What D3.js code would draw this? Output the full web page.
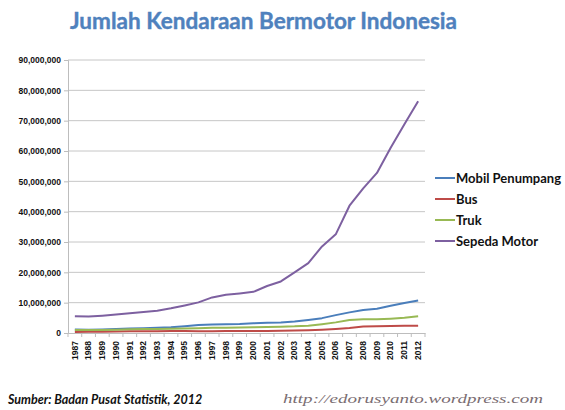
<!DOCTYPE html>
<html><head><meta charset="utf-8">
<script src="https://cdn.jsdelivr.net/npm/d3@7"></script>
<style>body{margin:0;background:#fff}svg{display:block}</style>
</head><body>
<svg id="c" width="565" height="410"></svg>
<script>
const years = [1987,1988,1989,1990,1991,1992,1993,1994,1995,1996,1997,1998,1999,2000,2001,2002,2003,2004,2005,2006,2007,2008,2009,2010,2011,2012];
const mobilPenumpang = [1170000,1073000,1182000,1313000,1495000,1591000,1700000,1890000,2250000,2600000,2800000,2900000,3000000,3200000,3400000,3500000,3800000,4300000,4900000,5900000,6800000,7600000,8000000,9000000,9900000,10700000];
const bus = [303000,386000,435000,469000,540000,606000,568000,652000,689000,595000,611000,627000,645000,666000,688000,714000,798000,933000,1110000,1350000,1650000,2150000,2200000,2300000,2350000,2400000];
const truk = [1000000,950000,1020000,1100000,1200000,1300000,1350000,1400000,1500000,1600000,1700000,1750000,1800000,1900000,2000000,2100000,2200000,2400000,2900000,3500000,4300000,4500000,4500000,4700000,5000000,5500000];
const sepedaMotor = [5554000,5420000,5722000,6083000,6495000,6941000,7355000,8135000,9077000,10091000,11736000,12629000,13053000,13563000,15492000,17002000,19976000,23056000,28532000,32529000,41955000,47684000,52767000,61078000,68839000,76381000];
const seriesNames = ["Mobil Penumpang","Bus","Truk","Sepeda Motor"];
const yTicks = [0,10000000,20000000,30000000,40000000,50000000,60000000,70000000,80000000,90000000];
const titleText = "Jumlah Kendaraan Bermotor Indonesia";
const sourceText = "Sumber: Badan Pusat Statistik, 2012";
const urlText = "http://edorusyanto.wordpress.com";

const colors = ["#4a7ebb","#be4b48","#98b954","#7d60a0"];
const seriesVals = [mobilPenumpang, bus, truk, sepedaMotor];

const svg = d3.select("#c");
const L = 68, R = 425, T = 60, B = 333;
const x = d3.scaleBand().domain(years).range([L, R]).padding(0);
const y = d3.scaleLinear().domain([0, 90000000]).range([B, T]);

// gridlines
svg.append("g").selectAll("line").data(yTicks.filter(d=>d>0)).join("line")
  .attr("x1", L).attr("x2", R).attr("y1", d=>y(d)).attr("y2", d=>y(d))
  .attr("stroke", "#c6c6c6").attr("stroke-width", 1);

// y axis
const ya = svg.append("g").attr("transform", `translate(${L},0)`)
  .call(d3.axisLeft(y).tickValues(yTicks).tickSize(4).tickPadding(3)
    .tickFormat(d => d === 0 ? "0" : d3.format(",")(d)));
ya.select(".domain").attr("stroke", "#bdbdbd");
ya.selectAll(".tick line").attr("stroke", "#bdbdbd");
ya.selectAll("text").attr("font-family", "Liberation Sans, Arial, sans-serif")
  .attr("font-weight", "bold").attr("font-size", "8.5px").attr("fill", "#111");

// x axis
const xa = svg.append("g").attr("transform", `translate(0,${B})`)
  .call(d3.axisBottom(x).tickSize(0).tickPadding(0));
xa.select(".domain").attr("stroke", "#bdbdbd");
xa.selectAll("text")
  .attr("font-family", "Liberation Sans, Arial, sans-serif")
  .attr("font-weight", "bold").attr("font-size", "8.5px").attr("fill", "#111")
  .attr("transform", "rotate(-90)")
  .attr("text-anchor", "end").attr("x", -8).attr("y", 0).attr("dy", "0.32em");
// boundary tick marks
const bounds = years.map(d => x(d)).concat([x(years[years.length-1]) + x.bandwidth()]);
svg.append("g").selectAll("line").data(bounds).join("line")
  .attr("x1", d=>d).attr("x2", d=>d).attr("y1", B).attr("y2", B+4)
  .attr("stroke", "#bdbdbd");

// lines
const line = d3.line().x((d,i)=>x(years[i]) + x.bandwidth()/2).y(d=>y(d));
seriesVals.forEach((vals, k) => {
  svg.append("path").datum(vals).attr("d", line)
    .attr("fill", "none").attr("stroke", colors[k]).attr("stroke-width", 2)
    .attr("stroke-linejoin", "round");
});

// legend
const lg = svg.append("g");
seriesNames.forEach((n, k) => {
  const yy = 178 + k*21;
  lg.append("line").attr("x1", 435).attr("x2", 455).attr("y1", yy).attr("y2", yy)
    .attr("stroke", colors[k]).attr("stroke-width", 2);
  lg.append("text").attr("x", 456).attr("y", yy).attr("dy", "0.35em")
    .attr("font-family", "Lato, sans-serif").attr("font-weight", "bold")
    .attr("font-size", "13px").attr("fill", "#111").text(n);
});

// title
svg.append("text").attr("x", 70).attr("y", 29)
  .attr("font-family", "Lato, 'Open Sans', sans-serif").attr("font-weight", "bold")
  .attr("font-size", "22px").attr("fill", "#4f81bd")
  .attr("stroke", "#4f81bd").attr("stroke-width", 0.4)
  .attr("textLength", 387).attr("lengthAdjust", "spacingAndGlyphs").text(titleText);

// footer
svg.append("text").attr("x", 8).attr("y", 404)
  .attr("font-family", "Lato, sans-serif").attr("font-weight", "bold").attr("font-style", "italic")
  .attr("font-size", "12.5px").attr("fill", "#111").text(sourceText);
svg.append("text").attr("x", 283).attr("y", 403)
  .attr("font-family", "'Liberation Serif', serif").attr("font-style", "italic")
  .attr("font-size", "13px").attr("fill", "#7a6d72")
  .attr("textLength", 260).attr("lengthAdjust", "spacingAndGlyphs").text(urlText);
</script>
</body></html>
